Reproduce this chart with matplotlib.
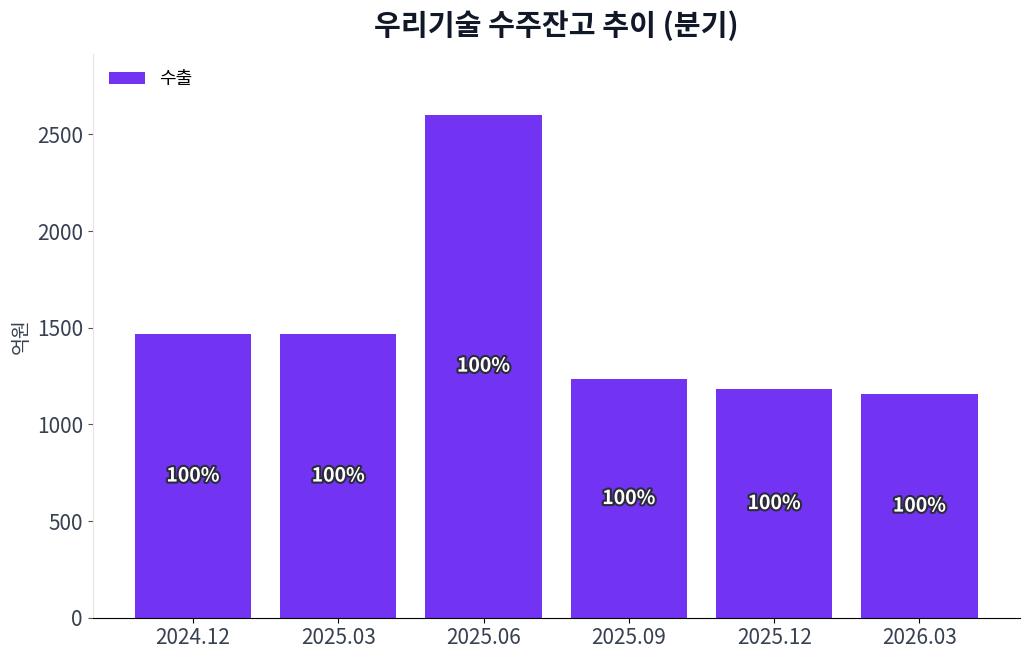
import numpy as np
import matplotlib
matplotlib.use("Agg")
from matplotlib import pyplot as plt
import matplotlib.patheffects as pe

plt.rcParams['font.family'] = ['Noto Sans CJK KR', 'DejaVu Sans']

quarters = ["2024.12", "2025.03", "2025.06", "2025.09", "2025.12", "2026.03"]
export_vals = [1466, 1466, 2603, 1233, 1181, 1155]
share_labels = ["100%", "100%", "100%", "100%", "100%", "100%"]

fig, ax = plt.subplots(figsize=(10.3, 6.6), dpi=100)
x = np.arange(len(quarters))
bars = ax.bar(x, export_vals, width=0.8, color="#7333f2", label="수출")

for b, lab in zip(bars, share_labels):
    h = b.get_height()
    ax.text(b.get_x() + b.get_width() / 2, h / 2, lab, ha="center", va="center",
            fontsize=14, fontweight="bold", color="white",
            path_effects=[pe.withStroke(linewidth=3, foreground="#2b2b3a")])

ax.set_xticks(x)
ax.set_xticklabels(quarters)
ax.set_ylim(0, max(export_vals) * 1.12)
ax.tick_params(axis="both", labelsize=15, labelcolor="#374151")
ax.set_ylabel("억원", fontsize=14, color="#374151", labelpad=4)
ax.set_title("우리기술 수주잔고 추이 (분기)", fontsize=21, fontweight="bold",
             color="#111827", pad=14)

ax.spines["top"].set_visible(False)
ax.spines["right"].set_visible(False)
ax.spines["left"].set_color("#e5e5e5")
ax.spines["bottom"].set_color("black")
ax.tick_params(axis="y", color="#555555")

ax.legend(loc="upper left", frameon=False, fontsize=13)

plt.subplots_adjust(left=0.09, right=0.99, top=0.918, bottom=0.064)
plt.savefig("out.png")
